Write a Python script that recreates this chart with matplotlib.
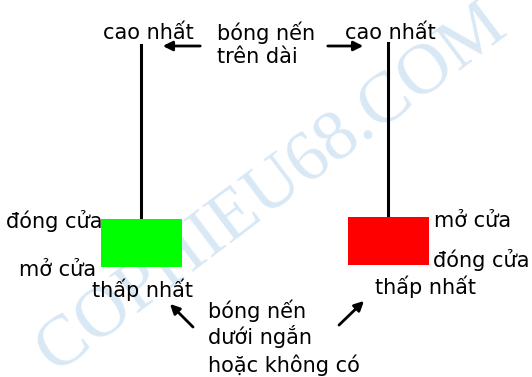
import matplotlib.pyplot as plt
from matplotlib.patches import Rectangle

# hai nến: vị trí, mở cửa, đóng cửa, cao nhất, thấp nhất
candles = ['tang', 'giam']
x_pos = [141, 388]
opens = [110, 160]
closes = [158, 112]
highs = [332, 334]
lows = [110, 112]
colors = ['#00ff00', '#ff0000']
body_w = 81

plt.rcParams['font.family'] = ['DejaVu Sans']

fig = plt.figure(figsize=(5.32, 3.77), dpi=100)
ax = fig.add_axes([0, 0, 1, 1])
ax.set_xlim(0, 532)
ax.set_ylim(0, 377)
ax.axis('off')

# watermark
ax.text(272, 188, 'COPHIEU68.COM', fontsize=52, family='Liberation Serif',
        color='#d9e8f5', rotation=37, ha='center', va='center', zorder=0)

for i in range(len(candles)):
    lo = min(opens[i], closes[i])
    hi = max(opens[i], closes[i])
    ax.plot([x_pos[i], x_pos[i]], [hi, highs[i]], color='black', lw=2.2, zorder=2)
    ax.add_patch(Rectangle((x_pos[i] - body_w / 2, lo), body_w, hi - lo,
                           facecolor=colors[i], edgecolor='none', zorder=3))

fs = 15
ax.text(148, 344, 'cao nhất', fontsize=fs, ha='center', va='center')
ax.text(390, 344, 'cao nhất', fontsize=fs, ha='center', va='center')
ax.text(217, 344, 'bóng nến', fontsize=fs, ha='left', va='center')
ax.text(217, 320, 'trên dài', fontsize=fs, ha='left', va='center')

arr = dict(arrowstyle='-|>', color='black', lw=2, mutation_scale=14)
ax.annotate('', xy=(160, 331), xytext=(203, 331), arrowprops=arr)
ax.annotate('', xy=(366, 331), xytext=(325, 331), arrowprops=arr)

ax.text(103, 156, 'đóng cửa', fontsize=fs, ha='right', va='center')
ax.text(96, 107, 'mở cửa', fontsize=fs, ha='right', va='center')
ax.text(92, 87, 'thấp nhất', fontsize=fs, ha='left', va='center')

ax.text(434, 156, 'mở cửa', fontsize=fs, ha='left', va='center')
ax.text(433, 117, 'đóng cửa', fontsize=fs, ha='left', va='center')
ax.text(375, 90, 'thấp nhất', fontsize=fs, ha='left', va='center')

ax.text(208, 66, 'bóng nến', fontsize=fs, ha='left', va='center')
ax.text(208, 40, 'dưới ngắn', fontsize=fs, ha='left', va='center')
ax.text(208, 12, 'hoặc không có', fontsize=fs, ha='left', va='center')

ax.annotate('', xy=(168, 75), xytext=(195, 48), arrowprops=arr)
ax.annotate('', xy=(366, 78), xytext=(337, 50), arrowprops=arr)

fig.savefig('out.png', dpi=100)
